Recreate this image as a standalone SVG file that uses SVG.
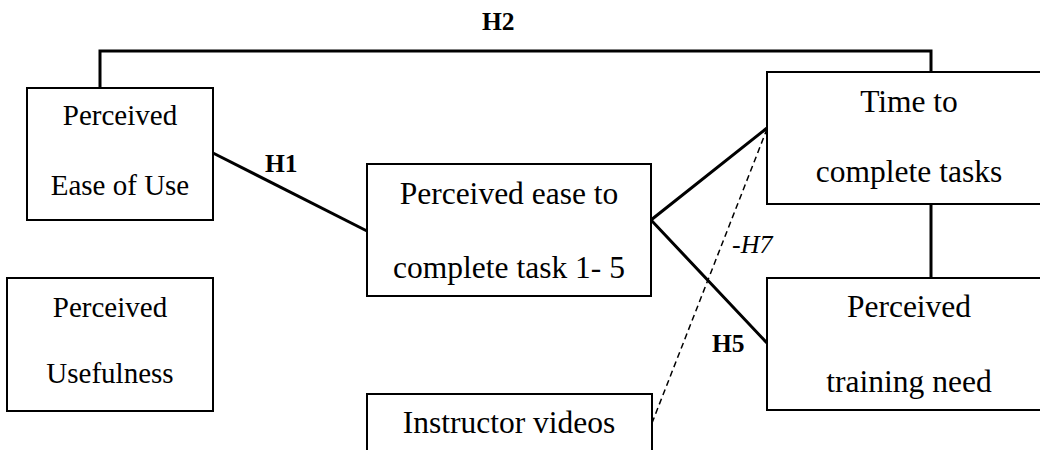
<svg xmlns="http://www.w3.org/2000/svg" width="1040" height="450" viewBox="0 0 1040 450">
<style>
.box{fill:#fff;stroke:#000;stroke-width:2}
.t{font-family:"Liberation Serif","Times New Roman",serif;fill:#000;text-anchor:middle}
.s29{font-size:29px}
.s31{font-size:31.5px}
.lbl{font-family:"Liberation Serif","Times New Roman",serif;font-size:25.5px;font-weight:bold;fill:#000}
.it{font-family:"Liberation Serif","Times New Roman",serif;font-size:26px;font-style:italic;fill:#000}
.c{fill:none;stroke:#000;stroke-width:3}
.d{fill:none;stroke:#000;stroke-width:1.5;stroke-dasharray:6 4}
</style>
<rect width="1040" height="450" fill="#fff"/>
<g id="connectors">
<polyline class="c" points="100,88 100,51 931,51 931,72"/>
<line class="c" x1="213" y1="153" x2="367" y2="231"/>
<polyline class="c" points="767,128 651,220 767,343"/>
<line class="c" x1="931" y1="204" x2="931" y2="278"/>
<line class="d" x1="652" y1="423" x2="767" y2="129"/>
<text class="lbl" x="482" y="30">H2</text>
<text class="lbl" x="265" y="172">H1</text>
<text class="lbl" x="712" y="352">H5</text>
<text class="it" x="732" y="253">-H7</text>
</g>
<g id="peou">
<rect class="box" x="27" y="88" width="186" height="132"/>
<text class="t s29" x="120" y="125">Perceived</text>
<text class="t s29" x="120" y="195">Ease of Use</text>
</g>
<g id="pu">
<rect class="box" x="7" y="278" width="206" height="133"/>
<text class="t s29" x="110" y="317">Perceived</text>
<text class="t s29" x="110" y="383">Usefulness</text>
</g>
<g id="ease">
<rect class="box" x="367" y="164" width="284" height="132"/>
<text class="t s31" x="509" y="204">Perceived ease to</text>
<text class="t s31" x="509" y="278">complete task 1- 5</text>
</g>
<g id="time">
<rect class="box" x="767" y="72" width="290" height="132"/>
<text class="t s31" x="909" y="112">Time to</text>
<text class="t s31" x="909" y="182">complete tasks</text>
</g>
<g id="training">
<rect class="box" x="767" y="278" width="290" height="132"/>
<text class="t s31" x="909" y="317">Perceived</text>
<text class="t s31" x="909" y="392">training need</text>
</g>
<g id="videos">
<rect class="box" x="367" y="394" width="285" height="70"/>
<text class="t s31" x="509" y="433">Instructor videos</text>
</g>
</svg>
